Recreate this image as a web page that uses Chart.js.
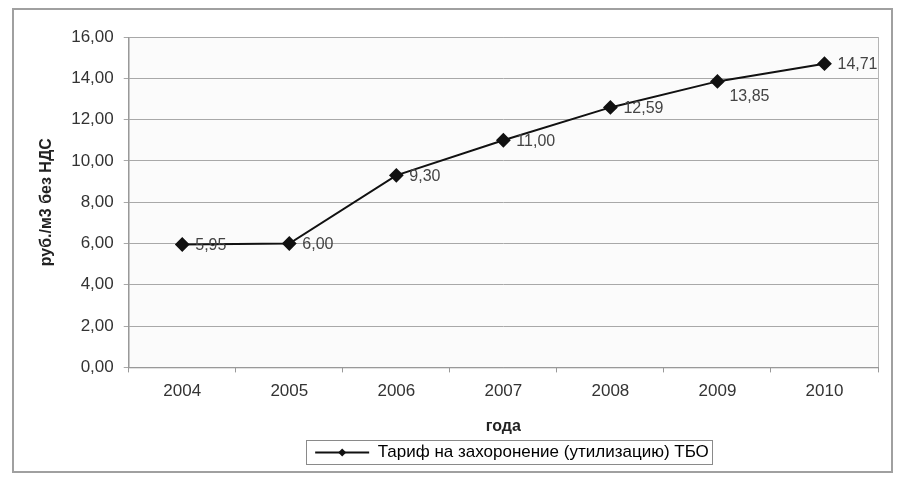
<!DOCTYPE html>
<html>
<head>
<meta charset="utf-8">
<script src="https://cdn.jsdelivr.net/npm/chart.js@4.4.0/dist/chart.umd.min.js"></script>
<style>
  body { margin: 0; background: #fff; }
  #wrap { width: 903px; height: 478px; position: relative; }
</style>
</head>
<body>
<div id="wrap"><canvas id="myChart" width="903" height="478"></canvas></div>
<script>
var years = ['2004', '2005', '2006', '2007', '2008', '2009', '2010'];
var tarif = [5.95, 6.00, 9.30, 11.00, 12.59, 13.85, 14.71];
var seriesName = 'Тариф на захоронение (утилизацию) ТБО';

var FONT = '"Liberation Sans", Arial, sans-serif';

function fmt(v){
    return v.toFixed(2).replace('.', ',');
}

// рамки: вся диаграмма, область построения, легенда
var frames = {
    id: 'frames',
    afterLayout: function(chart){
        // сдвигаем легенду вправо, как в оригинале
        var lg = chart.legend;
        var shift = 512 - (lg.left + lg.right) / 2;
        lg.left += shift;
        lg.right += shift;
    },
    beforeDraw: function(chart){
        var c = chart.ctx;
        var a = chart.chartArea;
        c.save();
        c.fillStyle = '#fff';
        c.fillRect(0, 0, chart.width, chart.height);
        c.strokeStyle = '#a0a0a0';
        c.lineWidth = 2;
        c.strokeRect(13, 9, 879, 463);
        c.fillStyle = '#fbfbfb';
        c.fillRect(a.left, a.top, a.right - a.left, a.bottom - a.top);
        c.strokeStyle = '#b5b5b5';
        c.lineWidth = 1;
        c.strokeRect(a.left + 0.5, a.top + 0.5, a.right - a.left, a.bottom - a.top);
        c.restore();
    },
    afterDraw: function(chart){
        var c = chart.ctx;
        var hb = chart.legend.legendHitBoxes[0];
        if (!hb) return;
        c.save();
        c.strokeStyle = '#8a8a8a';
        c.lineWidth = 1;
        c.strokeRect(Math.round(hb.left - 9) + 0.5, Math.round(hb.top - 4) + 0.5, Math.round(hb.width + 12), Math.round(hb.height + 7));
        // ромбик на линии легенды
        var cx = hb.left + 27, cy = hb.top + hb.height / 2;
        c.fillStyle = '#111';
        c.beginPath();
        c.moveTo(cx, cy - 4);
        c.lineTo(cx + 4, cy);
        c.lineTo(cx, cy + 4);
        c.lineTo(cx - 4, cy);
        c.closePath();
        c.fill();
        c.restore();
    }
};

// подписи значений
var valueLabels = {
    id: 'valueLabels',
    afterDatasetsDraw: function(chart){
        var c = chart.ctx;
        var meta = chart.getDatasetMeta(0);
        c.save();
        c.font = '16px ' + FONT;
        c.fillStyle = '#444';
        c.textBaseline = 'middle';
        meta.data.forEach(function(pt, i){
            var dx = 13, dy = 1;
            if (i == 5) { dx = 12; dy = 15; }
            c.fillText(fmt(tarif[i]), pt.x + dx, pt.y + dy);
        });
        c.restore();
    }
};

const ctx = document.getElementById('myChart').getContext('2d');
const myChart = new Chart(ctx, {
    type: 'line',
    data: {
        labels: years,
        datasets: [{
            label: seriesName,
            data: tarif,
            borderColor: '#111',
            backgroundColor: '#111',
            borderWidth: 2,
            pointStyle: 'rectRot',
            pointRadius: 6,
            pointHoverRadius: 6,
            tension: 0
        }]
    },
    options: {
        responsive: false,
        animation: false,
        layout: { padding: { left: 37, right: 25, top: 37, bottom: 7 } },
        plugins: {
            legend: {
                position: 'bottom',
                fullSize: false,
                labels: {
                    font: { size: 17, family: FONT },
                    color: '#444',
                    boxWidth: 54,
                    boxHeight: 0,
                    padding: 5,
                    generateLabels: function(chart){
                        return [{
                            text: seriesName,
                            strokeStyle: '#111',
                            fillStyle: '#111',
                            lineWidth: 2,
                            datasetIndex: 0
                        }];
                    }
                }
            },
            tooltip: { enabled: false }
        },
        scales: {
            x: {
                offset: true,
                grid: {
                    offset: true,
                    drawOnChartArea: false,
                    color: '#999',
                    tickLength: 5
                },
                border: { color: '#999', width: 1 },
                ticks: {
                    color: '#333',
                    font: { size: 17, family: FONT },
                    padding: 9
                },
                title: {
                    display: true,
                    text: 'года',
                    color: '#222',
                    font: { size: 16, weight: 'bold', family: FONT },
                    padding: { top: 6, bottom: 3 }
                }
            },
            y: {
                min: 0,
                max: 16,
                ticks: {
                    stepSize: 2,
                    color: '#333',
                    font: { size: 17, family: FONT },
                    padding: 10,
                    callback: function(v){ return fmt(v); }
                },
                grid: { color: '#a8a8a8', tickLength: 5 },
                border: { color: '#999', width: 1 },
                title: {
                    display: true,
                    text: 'руб./м3 без НДС',
                    color: '#222',
                    font: { size: 16, weight: 'bold', family: FONT },
                    padding: { top: 0, bottom: 5 }
                }
            }
        }
    },
    plugins: [frames, valueLabels]
});
</script>
</body>
</html>
